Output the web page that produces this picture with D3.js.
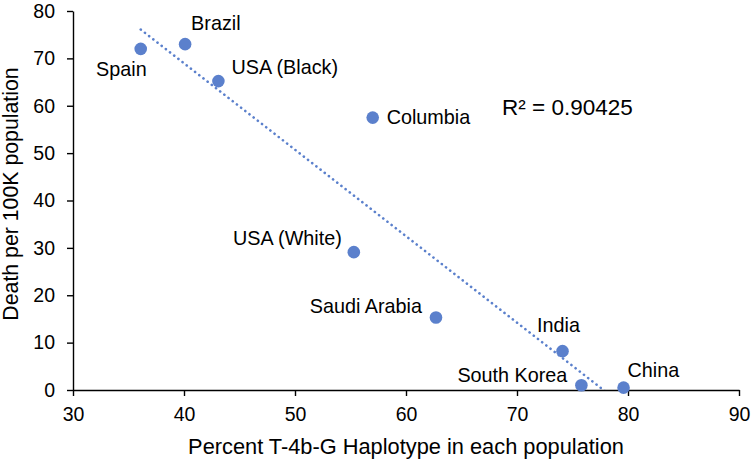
<!DOCTYPE html>
<html>
<head>
<meta charset="utf-8">
<script src="https://cdn.jsdelivr.net/npm/d3@7"></script>
<style>
  body { margin: 0; background: #fff; }
  text { font-family: "Liberation Sans", Arial, sans-serif; fill: #000; }
</style>
</head>
<body>
<div class="graph"></div>
<script>
// data
var countries = ["Spain", "Brazil", "USA (Black)", "Columbia", "USA (White)", "Saudi Arabia", "India", "South Korea", "China"];
var haplotype = [36.1, 40.1, 43.1, 57.0, 55.3, 62.7, 74.1, 75.8, 79.6];
var deaths = [72.0, 73.0, 65.2, 57.5, 29.1, 15.3, 8.2, 1.0, 0.5];
var xTicks = [30, 40, 50, 60, 70, 80, 90];
var yTicks = [0, 10, 20, 30, 40, 50, 60, 70, 80];
var r2Label = "R² = 0.90425";
var xTitle = "Percent T-4b-G Haplotype in each population";
var yTitle = "Death per 100K population";

// label placement: [dx, dy, anchor] relative to the dot
var labelPlace = [
  [6, 27, "end"], [6, -14, "start"], [13, -7, "start"], [14, 6, "start"],
  [-12, -7, "end"], [-14, -5, "end"], [-4, -19, "middle"], [-14, -3, "end"], [4, -11, "start"]
];

var width = 754, height = 464;
var dotColor = "#5b80cc";

var svg = d3.select(".graph").append("svg").attr("width", width).attr("height", height);

var x = d3.scaleLinear().domain([30, 90]).range([73, 739]);
var y = d3.scaleLinear().domain([0, 80]).range([390, 11]);

// clip for the trendline
svg.append("clipPath").attr("id", "plotclip").append("rect")
  .attr("x", x(30)).attr("y", y(80)).attr("width", x(90) - x(30)).attr("height", y(0) - y(80));

// linear trendline (least squares, like excel)
var mx = d3.mean(haplotype), my = d3.mean(deaths);
var sxy = 0, sxx = 0;
for (var i = 0; i < haplotype.length; i++) {
  sxy += (haplotype[i] - mx) * (deaths[i] - my);
  sxx += Math.pow(haplotype[i] - mx, 2);
}
var slope = sxy / sxx, icpt = my - slope * mx;
var x0 = d3.min(haplotype), x1 = d3.max(haplotype);

svg.append("line")
  .attr("x1", x(x0)).attr("y1", y(icpt + slope * x0))
  .attr("x2", x(x1)).attr("y2", y(icpt + slope * x1))
  .attr("clip-path", "url(#plotclip)")
  .style("stroke", dotColor).style("stroke-width", 2.6)
  .style("stroke-dasharray", "0.1 5.2").style("stroke-linecap", "round");

// axes
var xAxis = svg.append("g").attr("transform", "translate(0," + y(0) + ")")
  .call(d3.axisBottom(x).tickValues(xTicks).tickSize(6).tickPadding(11).tickSizeOuter(0));
var yAxis = svg.append("g").attr("transform", "translate(" + x(30) + ",0)")
  .call(d3.axisLeft(y).tickValues(yTicks).tickSize(6).tickPadding(12).tickSizeOuter(0));
[xAxis, yAxis].forEach(function (a) {
  a.select(".domain").style("stroke", "#000").style("stroke-width", 1.4);
  a.selectAll(".tick line").style("stroke", "#000").style("stroke-width", 1.4);
  a.selectAll(".tick text").style("font-size", "19.5px").style("font-family", "Liberation Sans, Arial, sans-serif").attr("fill", "#000");
});

// dots
svg.selectAll("circle.pt").data(countries).enter().append("circle")
  .attr("class", "pt")
  .attr("cx", function (d, i) { return x(haplotype[i]); })
  .attr("cy", function (d, i) { return y(deaths[i]); })
  .attr("r", 6.3)
  .style("fill", dotColor);

// data labels
svg.selectAll("text.lbl").data(countries).enter().append("text")
  .attr("class", "lbl")
  .attr("x", function (d, i) { return x(haplotype[i]) + labelPlace[i][0]; })
  .attr("y", function (d, i) { return y(deaths[i]) + labelPlace[i][1]; })
  .attr("text-anchor", function (d, i) { return labelPlace[i][2]; })
  .style("font-size", "19.8px")
  .text(function (d) { return d; });

// R squared
svg.append("text").attr("x", 502).attr("y", 115).style("font-size", "22.5px").text(r2Label);

// axis titles
svg.append("text").attr("x", (x(30) + x(90)) / 2).attr("y", 454)
  .attr("text-anchor", "middle").style("font-size", "21.8px").text(xTitle);
svg.append("text").attr("transform", "translate(18," + 194 + ") rotate(-90)")
  .attr("text-anchor", "middle").style("font-size", "21.3px").text(yTitle);
</script>
</body>
</html>
